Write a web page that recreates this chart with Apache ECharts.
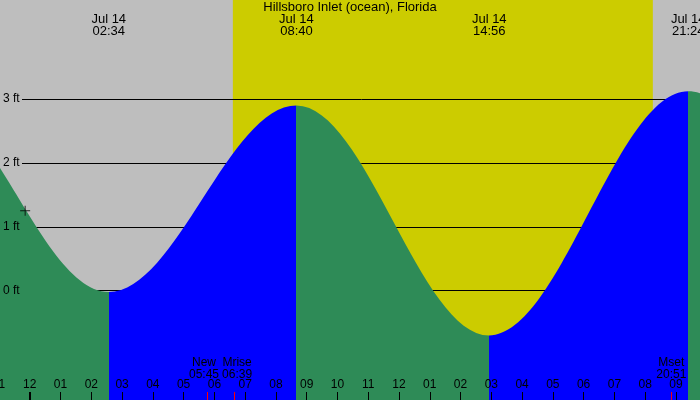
<!DOCTYPE html>
<html>
<head>
<meta charset="utf-8">
<title>Hillsboro Inlet tide</title>
<script src="https://cdn.jsdelivr.net/npm/echarts@6/dist/echarts.min.js"></script>
<style>
    html, body { margin: 0; padding: 0; background: #bebebe; }
    #chart { width: 700px; height: 400px; }
</style>
</head>
<body>
<div id="chart"></div>
<script>
const stationName = 'Hillsboro Inlet (ocean), Florida';

// high / low tides; first and last fall outside the window (estimated)
const tideTimes = ['Jul 13 14:20', 'Jul 13 20:36', 'Jul 14 02:34', 'Jul 14 08:40', 'Jul 14 14:56', 'Jul 14 21:24', 'Jul 15 03:25'];
const tideHeights = [-0.6, 3.0, -0.02, 2.9, -0.7, 3.12, 0.0];

const sunTimes = ['Jul 14 06:36', 'Jul 14 20:15'];
const moonLabels = ['New', 'Mrise', 'Mset'];
const moonTimes = ['Jul 14 05:45', 'Jul 14 06:39', 'Jul 14 20:51'];
const dayStarts = ['Jul 14 00:00'];
const nowMark = ['Jul 13 23:51', 1.25];
const feetTicks = [0, 3];

const NIGHT = '#bebebe';
const DAY = '#cccc00';
const RISE = '#0000ff';
const FALL = '#2e8b57';
const FONT = 'Liberation Sans';
const SMALL_FONT = '12px "' + FONT + '"';

// hours from midnight Jul 14
function toHours(s) {
    const parts = s.split(' ');
    const hm = parts[2].split(':').map(Number);
    return (Number(parts[1]) - 14) * 24 + hm[0] + hm[1] / 60;
}

function hourLabel(v) {
    if (Math.abs(v - Math.round(v)) > 1e-6) return '';
    let h = ((Math.round(v) % 12) + 12) % 12;
    if (h === 0) h = 12;
    return String(h).padStart(2, '0');
}

const measureCtx = document.createElement('canvas').getContext('2d');
function textWidth(text, font) {
    measureCtx.font = font;
    return Math.max(...text.split('\n').map(l => measureCtx.measureText(l).width));
}

// push neighbouring label centres apart so they don't overlap
function spreadLabels(xs, widths, gap) {
    const out = xs.slice();
    for (let i = 0; i < out.length - 1; i++) {
        const need = (widths[i] + widths[i + 1]) / 2 + gap;
        const d = out[i + 1] - out[i];
        if (d < need) {
            out[i] -= (need - d) / 2;
            out[i + 1] += (need - d) / 2;
        }
    }
    return out;
}

const tideX = tideTimes.map(toHours);
const tideData = tideX.map((x, i) => [x, tideHeights[i]]);
const moonX = moonTimes.map(toHours);
const moonText = moonLabels.map((l, i) => l + '\n' + moonTimes[i].split(' ')[2]);

const pieces = [];
for (let i = 0; i < tideX.length - 1; i++) {
    pieces.push({
        gte: tideX[i],
        lt: tideX[i + 1],
        color: tideHeights[i + 1] > tideHeights[i] ? RISE : FALL
    });
}

const xMin = -1, xMax = 21.815;
const yMin = -1.7105, yMax = 4.549;

const chart = echarts.init(document.getElementById('chart'));

chart.setOption({
    animation: false,
    backgroundColor: NIGHT,
    title: {
        text: stationName,
        left: 'center',
        top: 1,
        padding: 0,
        textStyle: { fontFamily: FONT, fontSize: 13, fontWeight: 'normal', color: '#000', lineHeight: 13 }
    },
    grid: [
        { left: -1, right: -1, top: 0, bottom: 0, outerBoundsMode: 'none', containLabel: false },
        { left: 22, right: -1, top: 99, bottom: 109.3, outerBoundsMode: 'none', containLabel: false }
    ],
    xAxis: [
        {
            type: 'value', gridIndex: 0, min: xMin, max: xMax, interval: 1, z: 5,
            splitLine: { show: false },
            axisLine: { show: false, onZero: false },
            axisTick: { inside: true, length: 8, lineStyle: { color: '#000', width: 1 } },
            axisLabel: {
                inside: true, margin: 9, formatter: hourLabel,
                fontFamily: FONT, fontSize: 12, lineHeight: 12, color: '#000',
                showMaxLabel: false
            }
        },
        { type: 'value', gridIndex: 1, min: xMin, max: xMax, show: false, axisLine: { onZero: false } }
    ],
    yAxis: [
        { type: 'value', gridIndex: 0, min: yMin, max: yMax, show: false, axisLine: { onZero: false } },
        {
            type: 'value', gridIndex: 1, min: feetTicks[0], max: feetTicks[1], interval: 1, z: 1,
            axisLine: { show: false, onZero: false }, axisTick: { show: false }, axisLabel: { show: false },
            splitLine: { lineStyle: { color: '#000', width: 1 } }
        },
        {
            type: 'value', gridIndex: 1, min: feetTicks[0], max: feetTicks[1], interval: 1, z: 5,
            position: 'left',
            axisLine: { show: false, onZero: false }, axisTick: { show: false }, splitLine: { show: false },
            axisLabel: {
                align: 'left', margin: 19, formatter: v => v + ' ft',
                fontFamily: FONT, fontSize: 12, color: '#000'
            }
        }
    ],
    visualMap: {
        type: 'piecewise', show: false, dimension: 0, seriesIndex: 1,
        pieces: pieces, outOfRange: { color: FALL }
    },
    series: [
        {
            // daylight band
            type: 'custom', z: 0, xAxisIndex: 0, yAxisIndex: 0,
            encode: { x: [0, 1] },
            data: [[toHours(sunTimes[0]), toHours(sunTimes[1])]],
            renderItem(params, api) {
                const a = api.coord([api.value(0), 0]);
                const b = api.coord([api.value(1), 0]);
                const cs = params.coordSys;
                return {
                    type: 'rect',
                    shape: { x: a[0], y: cs.y, width: b[0] - a[0], height: cs.height },
                    style: { fill: DAY }
                };
            }
        },
        {
            type: 'line', z: 2, xAxisIndex: 0, yAxisIndex: 0,
            data: tideData,
            smooth: 0.36,
            smoothMonotone: 'x',
            showSymbol: false,
            symbol: 'none',
            lineStyle: { width: 0 },
            areaStyle: { origin: 'start', opacity: 1 }
        },
        {
            type: 'scatter', z: 4, xAxisIndex: 0, yAxisIndex: 0,
            data: [[toHours(nowMark[0]), nowMark[1]]],
            symbol: 'path://M4.5,0h1v4.5h4.5v1h-4.5v4.5h-1v-4.5h-4.5v-1h4.5z',
            symbolSize: 10,
            itemStyle: { color: '#000' }
        },
        {
            // tide time labels along the top
            type: 'custom', z: 5, xAxisIndex: 0, yAxisIndex: 0,
            encode: { x: 0 },
            data: tideX.map(x => [x]),
            renderItem(params, api) {
                const p = api.coord([api.value(0), 0]);
                const s = tideTimes[params.dataIndex].split(' ');
                return {
                    type: 'text',
                    x: p[0], y: params.coordSys.y + 13.5,
                    style: {
                        text: s[0] + ' ' + s[1] + '\n' + s[2],
                        font: '13px "' + FONT + '"', fill: '#000',
                        align: 'center', verticalAlign: 'top', lineHeight: 12
                    }
                };
            }
        },
        {
            // moon events with red ticks
            type: 'custom', z: 5, xAxisIndex: 0, yAxisIndex: 0,
            encode: { x: 0 },
            data: moonX.map(x => [x]),
            renderItem(params, api) {
                const i = params.dataIndex;
                const cs = params.coordSys;
                const bottom = cs.y + cs.height;
                const px = moonX.map(x => api.coord([x, 0])[0]);
                const centers = spreadLabels(px, moonText.map(t => textWidth(t, SMALL_FONT)), 3);
                const x = Math.round(px[i]) + 0.5;
                return {
                    type: 'group',
                    children: [
                        {
                            type: 'line',
                            shape: { x1: x, y1: bottom - 8, x2: x, y2: bottom },
                            style: { stroke: '#ff0000', lineWidth: 1 }
                        },
                        {
                            type: 'text',
                            x: centers[i], y: bottom - 19,
                            style: {
                                text: moonText[i],
                                font: SMALL_FONT, fill: '#000',
                                align: 'center', verticalAlign: 'bottom', lineHeight: 12
                            }
                        }
                    ]
                };
            }
        },
        {
            // thick tick at midnight
            type: 'custom', z: 6, xAxisIndex: 0, yAxisIndex: 0,
            encode: { x: 0 },
            data: dayStarts.map(t => [toHours(t)]),
            renderItem(params, api) {
                const p = api.coord([api.value(0), 0]);
                const cs = params.coordSys;
                return {
                    type: 'rect',
                    shape: { x: Math.round(p[0]) - 1, y: cs.y + cs.height - 8, width: 2, height: 8 },
                    style: { fill: '#000' }
                };
            }
        }
    ]
});
</script>
</body>
</html>
